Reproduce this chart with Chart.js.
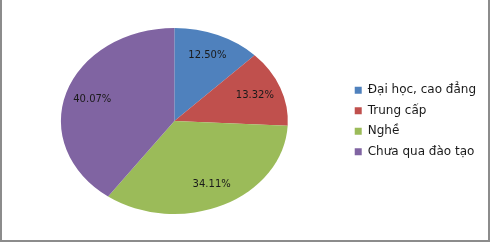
<!DOCTYPE html>
<html lang="vi">
  <head>
    <meta charset="UTF-8" />
    <title>Cơ cấu lao động theo trình độ</title>
    <script src="https://cdn.jsdelivr.net/npm/chart.js"></script>
    <style>
      body { margin: 0; background: #fff; }
      #wrap { position: relative; width: 490px; height: 242px; }
      #wrap canvas { position: absolute; left: 0; top: 0; }
      #frame {
        position: absolute; left: 0; top: 0; width: 490px; height: 242px;
        box-sizing: border-box; border: 2px solid #8c8c8c; border-top: none;
        pointer-events: none;
      }
    </style>
  </head>
  <body>
    <div id="wrap">
      <canvas id="pieChart" width="490" height="242"></canvas>
      <div id="frame"></div>
    </div>

    <script>
      // Categories and shares (%)
      const categories = ['Đại học, cao đẳng', 'Trung cấp', 'Nghề', 'Chưa qua đào tạo']
      const shares = [12.5, 13.32, 34.11, 40.07]
      const colors = ['#4F81BD', '#C0504D', '#9BBB59', '#8064A2']

      const stretchX = 1.22 // the original pie is an ellipse

      // Stretch the pie horizontally around its own centre
      const ellipsePlugin = {
        id: 'ellipse',
        beforeDatasetsDraw(chart) {
          const a = chart.chartArea
          const cx = (a.left + a.right) / 2
          const cy = (a.top + a.bottom) / 2
          chart.ctx.save()
          chart.ctx.translate(cx, cy)
          chart.ctx.scale(stretchX, 1)
          chart.ctx.translate(-cx, -cy)
        },
        afterDatasetsDraw(chart) {
          chart.ctx.restore()
          // Percent labels inside each slice
          const ctx = chart.ctx
          const meta = chart.getDatasetMeta(0)
          ctx.save()
          ctx.font = '10px "DejaVu Sans"'
          ctx.fillStyle = '#1a1a1a'
          ctx.textAlign = 'center'
          ctx.textBaseline = 'middle'
          meta.data.forEach((arc, i) => {
            const p = arc.getProps(['x', 'y', 'startAngle', 'endAngle', 'outerRadius'], true)
            const mid = (p.startAngle + p.endAngle) / 2
            const r = p.outerRadius * 0.76
            const x = p.x + Math.cos(mid) * r * stretchX
            const y = p.y + Math.sin(mid) * r
            ctx.fillText(shares[i].toFixed(2) + '%', x, y)
          })
          ctx.restore()
        }
      }

      new Chart(document.getElementById('pieChart'), {
        type: 'pie',
        data: {
          labels: categories,
          datasets: [
            {
              data: shares,
              backgroundColor: colors,
              borderWidth: 0
            }
          ]
        },
        options: {
          responsive: false,
          animation: false,
          layout: { padding: { left: 2.5, right: 4, top: 28, bottom: 28 } },
          plugins: {
            tooltip: { enabled: false },
            legend: {
              position: 'right',
              labels: {
                boxWidth: 7,
                boxHeight: 7,
                padding: 8.5,
                color: '#1a1a1a',
                font: { family: '"DejaVu Sans"', size: 12 }
              }
            }
          }
        },
        plugins: [ellipsePlugin]
      })
    </script>
  </body>
</html>
